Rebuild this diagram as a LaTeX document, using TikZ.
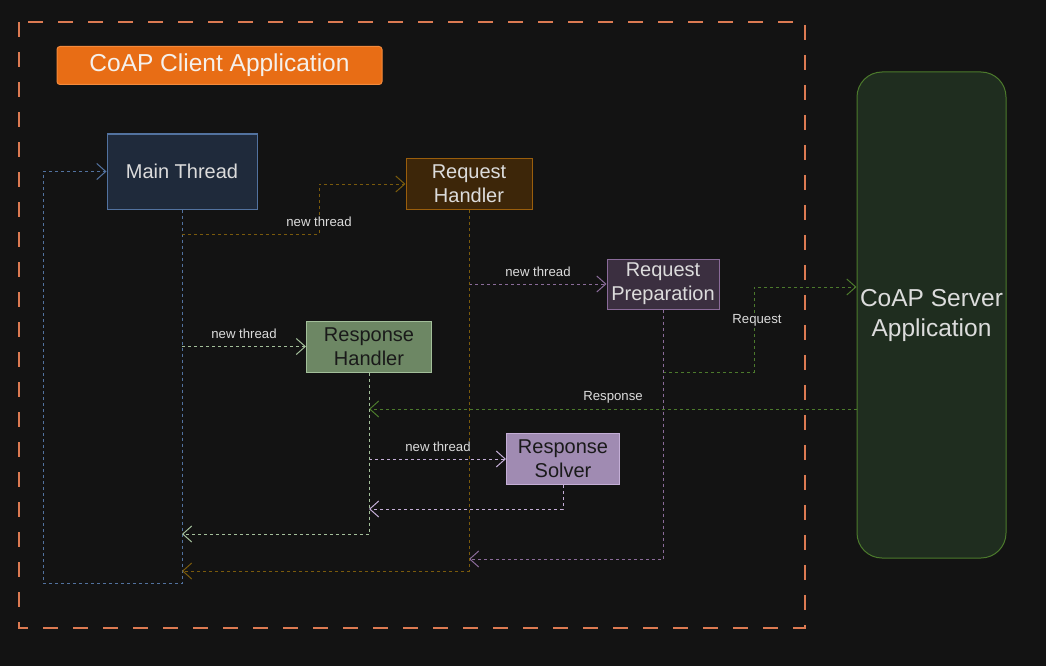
\documentclass[tikz,border=0pt]{standalone}
\usepackage{fontspec}
\setmainfont{Liberation Sans}
\usetikzlibrary{arrows.meta}

\definecolor{bgcol}{HTML}{131313}
\definecolor{framecol}{HTML}{DC7A52}
\definecolor{titlecol}{HTML}{E86D15}
\definecolor{titleedge}{HTML}{F48A3C}
\definecolor{mainfill}{HTML}{1F2A3B}
\definecolor{mainedge}{HTML}{52729F}
\definecolor{reqhfill}{HTML}{3D2609}
\definecolor{reqhedge}{HTML}{9A5E0C}
\definecolor{reqhline}{HTML}{7A5A0C}
\definecolor{reqpfill}{HTML}{3B2F40}
\definecolor{reqpedge}{HTML}{8A6B99}
\definecolor{reshfill}{HTML}{6D8764}
\definecolor{reshedge}{HTML}{A3BF9A}
\definecolor{ressfill}{HTML}{A08BB2}
\definecolor{ressedge}{HTML}{C4AED6}
\definecolor{srvfill}{HTML}{1F2D1F}
\definecolor{srvedge}{HTML}{4C7A2C}
\definecolor{lighttext}{HTML}{DCDCDC}
\definecolor{darktext}{HTML}{1A1A1A}

\tikzset{
    box/.style={draw, line width=1pt, inner sep=0pt, align=center,
        text=lighttext, font=\fontsize{20}{24}\selectfont},
    link/.style={line width=1pt, dash pattern=on 3pt off 3pt,
        -{Straight Barb[length=9pt,width=16pt,line width=1pt]}},
    lbl/.style={fill=bgcol, inner sep=1pt, text=lighttext,
        font=\fontsize{13.2}{15}\selectfont},
}

\begin{document}
\begin{tikzpicture}[x=1pt, y=-1pt]
            \def \xloop      {43};
            \def \xmain      {182};
            \def \xkneea     {319};
            \def \xresh      {369};
            \def \xreqh      {469};
            \def \xress      {563};
            \def \xreqp      {663};
            \def \xkneeb     {754};
            \def \xsrv       {931.5};

            \def \ymain      {171.5};
            \def \yreqh      {184};
            \def \ynewa      {234};
            \def \yreqp      {284};
            \def \ysend      {287};
            \def \ysrv       {315};
            \def \yresh      {346.5};
            \def \ysendlow   {372};
            \def \yresp      {409};
            \def \ysolv      {459};
            \def \ysolvback  {509};
            \def \yreshback  {534};
            \def \yreqpback  {559};
            \def \yreqhback  {571};
            \def \yloop      {583};

            \fill [bgcol] (0, 0) rectangle (1046, 666);
            \useasboundingbox (0, 0) rectangle (1046, 666);
% client frame
            \draw [framecol, line width=1.6pt, dash pattern=on 15pt off 15pt] (19, 22) rectangle (805, 628);
            \node [box, draw=titleedge, fill=titlecol, rounded corners=3pt, minimum width=325pt, minimum height=38pt,
                text={rgb,255:red,245;green,240;blue,235}, font=\fontsize{24.5}{28}\selectfont] (title) at (219.5, 65.5) {CoAP Client Application};

% threads
            \node [box, draw=mainedge, fill=mainfill, minimum width=150pt, minimum height=75pt] (main) at (\xmain, \ymain) {Main Thread};
            \node [box, draw=reqhedge, fill=reqhfill, minimum width=126pt, minimum height=51pt] (reqh) at (\xreqh, \yreqh) {Request\\Handler};
            \node [box, draw=reqpedge, fill=reqpfill, minimum width=112pt, minimum height=50pt] (reqp) at (\xreqp, \yreqp) {Request\\Preparation};
            \node [box, draw=reshedge, fill=reshfill, text=darktext, minimum width=125pt, minimum height=51pt] (resh) at (\xresh, \yresh) {Response\\Handler};
            \node [box, draw=ressedge, fill=ressfill, text=darktext, minimum width=113pt, minimum height=51pt] (ress) at (\xress, \ysolv) {Response\\Solver};
% server
            \node [box, draw=srvedge, fill=srvfill, rounded corners=25pt, minimum width=149pt, minimum height=486pt,
                font=\fontsize{24.5}{30}\selectfont] (srv) at (\xsrv, \ysrv) {CoAP Server\\Application};

            \coordinate (reqknee) at (\xkneeb, \ysend);
            \coordinate (resplvl) at (0, \yresp);

% main loop
            \draw [link, mainedge] (main.south) |- (\xloop, \yloop) |- (main.west);
% new threads
            \draw [link, reqhline] (\xmain, \ynewa) -| (\xkneea, \yreqh) -- (reqh.west);
            \draw [link, reshedge] (\xmain, \yresh) -- (resh.west);
            \draw [link, reqpedge] (\xreqh, \yreqp) -- (reqp.west);
            \draw [link, ressedge] (\xresh, \ysolv) -- (ress.west);
% requests and responses
            \draw [link, srvedge] (\xreqp, \ysendlow) -| (reqknee) -- (reqknee -| srv.west);
            \draw [link, srvedge] (resplvl -| srv.west) -- (resplvl -| resh.south);
% joins
            \draw [link, ressedge] (ress.south) |- (\xresh, \ysolvback);
            \draw [link, reshedge] (resh.south) |- (\xmain, \yreshback);
            \draw [link, reqpedge] (reqp.south) |- (\xreqh, \yreqpback);
            \draw [link, reqhline] (reqh.south) |- (\xmain, \yreqhback);

% labels
            \node [lbl] (lbla) at (\xkneea, 222) {new thread};
            \node [lbl] (lblb) at (244, 334) {new thread};
            \node [lbl] (lblc) at (538, 272) {new thread};
            \node [lbl] (lbld) at (757, 320) {Request};
            \node [lbl] (lble) at (613, 397) {Response};
            \node [lbl] (lblf) at (438, 447) {new thread};
\end{tikzpicture}
\end{document}
